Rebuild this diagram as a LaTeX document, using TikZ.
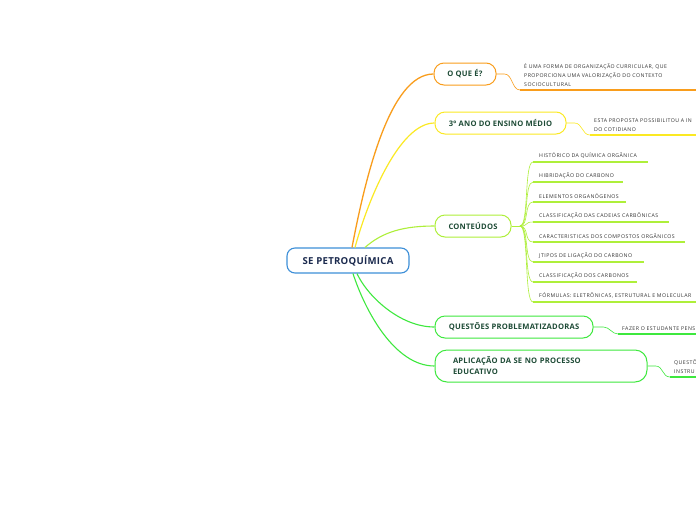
\documentclass[tikz,border=0pt]{standalone}
\usepackage{fontspec}
\setmainfont{Open Sans}
\usepackage{tikz}

\definecolor{rootblue}{HTML}{3D8FD8}
\definecolor{navytext}{HTML}{1B2A4E}
\definecolor{branchtext}{HTML}{1E4B36}
\definecolor{leaftext}{HTML}{333333}
\definecolor{orangebr}{HTML}{F99D1C}
\definecolor{yellowbr}{HTML}{FBE923}
\definecolor{limebr}{HTML}{AEEF3A}
\definecolor{greenbr}{HTML}{3EE83E}

\begin{document}
\begin{tikzpicture}[x=1pt, y=-1pt,
		root node/.style={draw=rootblue,line width=1.1pt,rounded corners=8pt,fill=white,minimum width=122pt,minimum height=25pt,inner sep=0pt,text=navytext,font=\bfseries\fontsize{9.6}{11}\selectfont\addfontfeature{LetterSpace=3}},
		main node/.style={rounded corners=10pt,line width=1pt,fill=white,minimum height=22pt,inner sep=0pt,text=branchtext,font=\bfseries\fontsize{7.6}{11}\selectfont\addfontfeature{LetterSpace=3}},
		leaf/.style={anchor=south west,inner xsep=4pt,inner ysep=3pt,align=left,text=leaftext,font=\fontsize{5.2}{9}\selectfont\addfontfeature{LetterSpace=9}},
		sub leaf/.style={leaf,inner xsep=6pt,inner ysep=3.5pt}]
			
			\fill[white] (0,0) rectangle (696,520);
			\clip (0,0) rectangle (696,520);
			
			\node[root node] (root) at (348,260.5) {SE PETROQUÍMICA};
			\node[main node,draw=orangebr,minimum width=62pt] (oque) at (465,74) {O QUE É?};
			\node[main node,draw=yellowbr,minimum width=131pt] (ano) at (500.5,123) {3º ANO DO ENSINO MÉDIO};
			\node[main node,draw=limebr,minimum width=76pt] (cont) at (473,226) {CONTEÚDOS};
			\node[main node,draw=greenbr,minimum width=158pt] (quest) at (514,327) {QUESTÕES PROBLEMATIZADORAS};
			\node[main node,draw=greenbr,minimum height=32pt,text width=176pt,inner xsep=18pt,align=left,rounded corners=12pt] (aplic) at (541,366) {APLICAÇÃO DA SE NO PROCESSO\\EDUCATIVO};
			
			% leaves
			\node[leaf,text width=192pt] (oqueleaf) at (520,90) {É UMA FORMA DE ORGANIZAÇÃO CURRICULAR, QUE\\PROPORCIONA UMA VALORIZAÇÃO DO CONTEXTO\\SOCIOCULTURAL};
			\node[leaf,text width=122pt] (anoleaf) at (590,135) {ESTA PROPOSTA POSSIBILITOU A IN\\DO COTIDIANO};
			\node[leaf,text width=92pt] (questleaf) at (618,334) {FAZER O ESTUDANTE PENS};
			\node[leaf,text width=52pt] (aplicleaf) at (670,377) {QUESTÕ\\INSTRU};
			
			\foreach \n/\y/\w/\t in {c1/162/103/{HISTÓRICO DA QUÍMICA ORGÂNICA},
					c2/182/78/{HIBRIDAÇÃO DO CARBONO},
					c3/202/81/{ELEMENTOS ORGANÓGENOS},
					c4/222/124/{CLASSIFICAÇÃO DAS CADEIAS CARBÔNICAS},
					c5/242/140/{CARACTERISTICAS DOS COMPOSTOS ORGÂNICOS},
					c6/262/99/{JTIPOS DE LIGAÇÃO DO CARBONO},
					c7/282/92/{CLASSIFICAÇÃO DOS CARBONOS},
					c8/302/180/{FÓRMULAS: ELETRÔNICAS, ESTRUTURAL E MOLECULAR}}
			\node[sub leaf,text width=\w pt] (\n) at (533,\y) {\t};
			
			% branches from the root
			\draw[orangebr,line width=1.3pt] ([xshift=4pt]root.north) .. controls +(13,-68) and +(-44,0) .. (oque.west);
			\draw[yellowbr,line width=1.2pt] ([xshift=7pt]root.north) .. controls +(13,-48) and +(-35,0) .. (ano.west);
			\draw[limebr,line width=1.1pt] ([xshift=17pt]root.north) .. controls +(18,-16) and +(-30,0) .. (cont.west);
			\draw[greenbr,line width=1.1pt] ([xshift=9pt]root.south) .. controls +(10,22) and +(-35,0) .. (quest.west);
			\draw[greenbr,line width=1.1pt] ([xshift=5pt]root.south) .. controls +(12,37) and +(-40,0) .. (aplic.west);
			
			% branches to the leaves
			\draw[orangebr,line width=0.6pt] (oque.east) -- ++(8,0) .. controls +(8,0) and +(-8,0) .. (oqueleaf.south west);
			\draw[orangebr,line width=1.5pt] (oqueleaf.south west) -- (oqueleaf.south east);
			\draw[yellowbr,line width=0.6pt] (ano.east) -- ++(8,0) .. controls +(8,0) and +(-8,0) .. (anoleaf.south west);
			\draw[yellowbr,line width=1.5pt] (anoleaf.south west) -- (anoleaf.south east);
			\draw[greenbr,line width=0.6pt] (quest.east) -- ++(10,0) .. controls +(6,0) and +(-6,0) .. (questleaf.south west);
			\draw[greenbr,line width=1.5pt] (questleaf.south west) -- (questleaf.south east);
			\draw[greenbr,line width=0.6pt] (aplic.east) -- ++(8,0) .. controls +(8,0) and +(-8,0) .. (aplicleaf.south west);
			\draw[greenbr,line width=1.5pt] (aplicleaf.south west) -- (aplicleaf.south east);
			
			\coordinate (fan) at (520,226);
			\draw[limebr,line width=0.6pt] (cont.east) -- (fan);
			\foreach \n in {c1,c2,c3,c4,c5,c6,c7,c8}
			\draw[limebr,line width=0.6pt] (fan) .. controls +(9,0) and +(-9,0) .. (\n.south west);
			\foreach \n in {c1,c2,c3,c4,c5,c6,c7,c8}
			\draw[limebr,line width=1.2pt] (\n.south west) -- (\n.south east);
			
			\end{tikzpicture}
\end{document}
